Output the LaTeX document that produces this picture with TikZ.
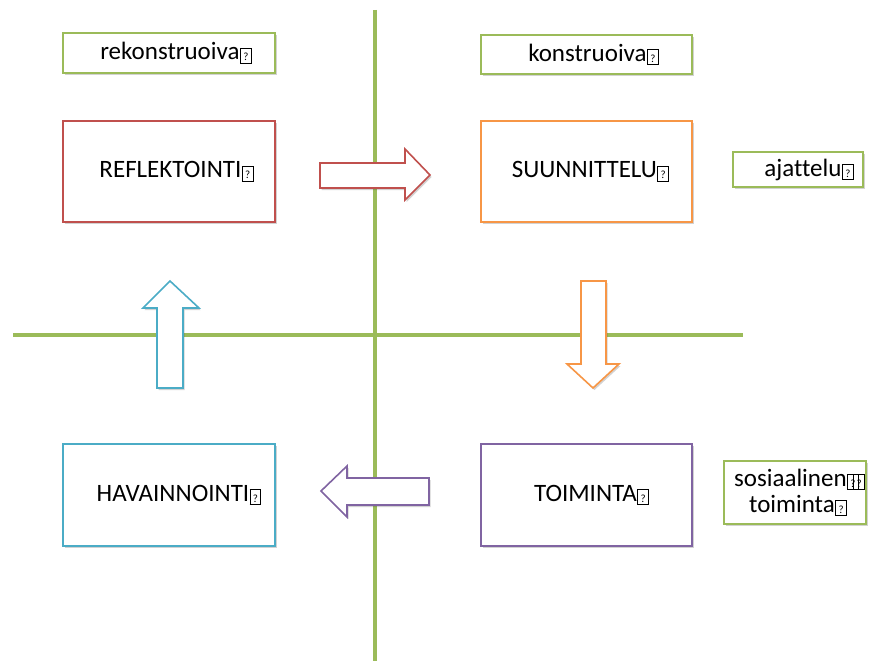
\documentclass[tikz,border=0pt]{standalone}
\usepackage{fontspec}
\setmainfont{Carlito}[Ligatures={NoCommon}]
\usetikzlibrary{shadows}
\definecolor{cgreen}{HTML}{9BBB59}
\definecolor{cred}{HTML}{C0504D}
\definecolor{corange}{HTML}{F79646}
\definecolor{cblue}{HTML}{4BACC6}
\definecolor{cpurple}{HTML}{8064A2}
\newcommand{\qb}{\kern0.5pt\raisebox{-1pt}{\setlength{\fboxsep}{0.5pt}\setlength{\fboxrule}{0.8pt}\fbox{\makebox[9pt]{\rule[-1.5pt]{0pt}{13pt}\fontsize{11}{11}\selectfont ?}}}}
\tikzset{
  sh/.style={drop shadow={shadow xshift=1.5pt,shadow yshift=-2pt,opacity=0.25,fill=black!70}},
  box/.style={draw=#1,line width=1.6pt,fill=white,rectangle,inner sep=0pt,sh,font=\fontsize{25}{25}\selectfont,align=center},
  arr/.style={draw=#1,line width=1.6pt,fill=white,line join=miter,sh},
  axis/.style={draw=cgreen,line width=4pt}
}
\begin{document}
\begin{tikzpicture}[x=1pt,y=-1pt]
\useasboundingbox (0,0) rectangle (873,661);
% axes
\coordinate (vt) at (375,10);
\coordinate (vb) at (375,661);
\coordinate (hl) at (13,335);
\coordinate (hr) at (743,335);
\path[axis] (vt) -- (vb);
\path[axis] (hl) -- (hr);
% arrows
\path[arr=cred] (320,163) -- (405,163) -- (405,149) -- (430,175) -- (405,200) -- (405,188) -- (320,188) -- cycle;
\path[arr=corange] (581,281) -- (606,281) -- (606,364) -- (619,364) -- (593,388) -- (567,364) -- (581,364) -- cycle;
\path[arr=cblue] (157,388) -- (183,388) -- (183,308) -- (199,308) -- (170,281) -- (143,308) -- (157,308) -- cycle;
\path[arr=cpurple] (429,478) -- (347,478) -- (347,466) -- (321,491) -- (347,517) -- (347,505) -- (429,505) -- cycle;
% boxes
\node[box=cgreen,minimum width=212pt,minimum height=40pt] (rek) at (169,53) {\hspace*{14pt}rekonstruoiva\qb};
\node[box=cgreen,minimum width=211pt,minimum height=39pt] (kon) at (586.5,54.5) {\hspace*{14pt}konstruoiva\qb};
\node[box=cred,minimum width=212pt,minimum height=101pt] (ref) at (169,171.5) {\hspace*{15pt}REFLEKTOINTI\qb};
\node[box=corange,minimum width=211pt,minimum height=101pt] (suu) at (586.5,171.5) {\hspace*{8pt}SUUNNITTELU\qb};
\node[box=cgreen,minimum width=130pt,minimum height=35pt] (aja) at (798,169.5) {\hspace*{22pt}ajattelu\qb};
\node[box=cblue,minimum width=212pt,minimum height=102pt] (hav) at (169,495) {\hspace*{20pt}HAVAINNOINTI\qb};
\node[box=cpurple,minimum width=211pt,minimum height=102pt] (toi) at (586.5,495) {\hspace*{10pt}TOIMINTA\qb};
\node[box=cgreen,minimum width=142pt,minimum height=63pt] (sos) at (795,492.5) {\hspace*{9pt}sosiaalinen\qb\kern-6pt\qb\\[1pt]\hspace*{6pt}toiminta\qb};
\end{tikzpicture}
\end{document}
